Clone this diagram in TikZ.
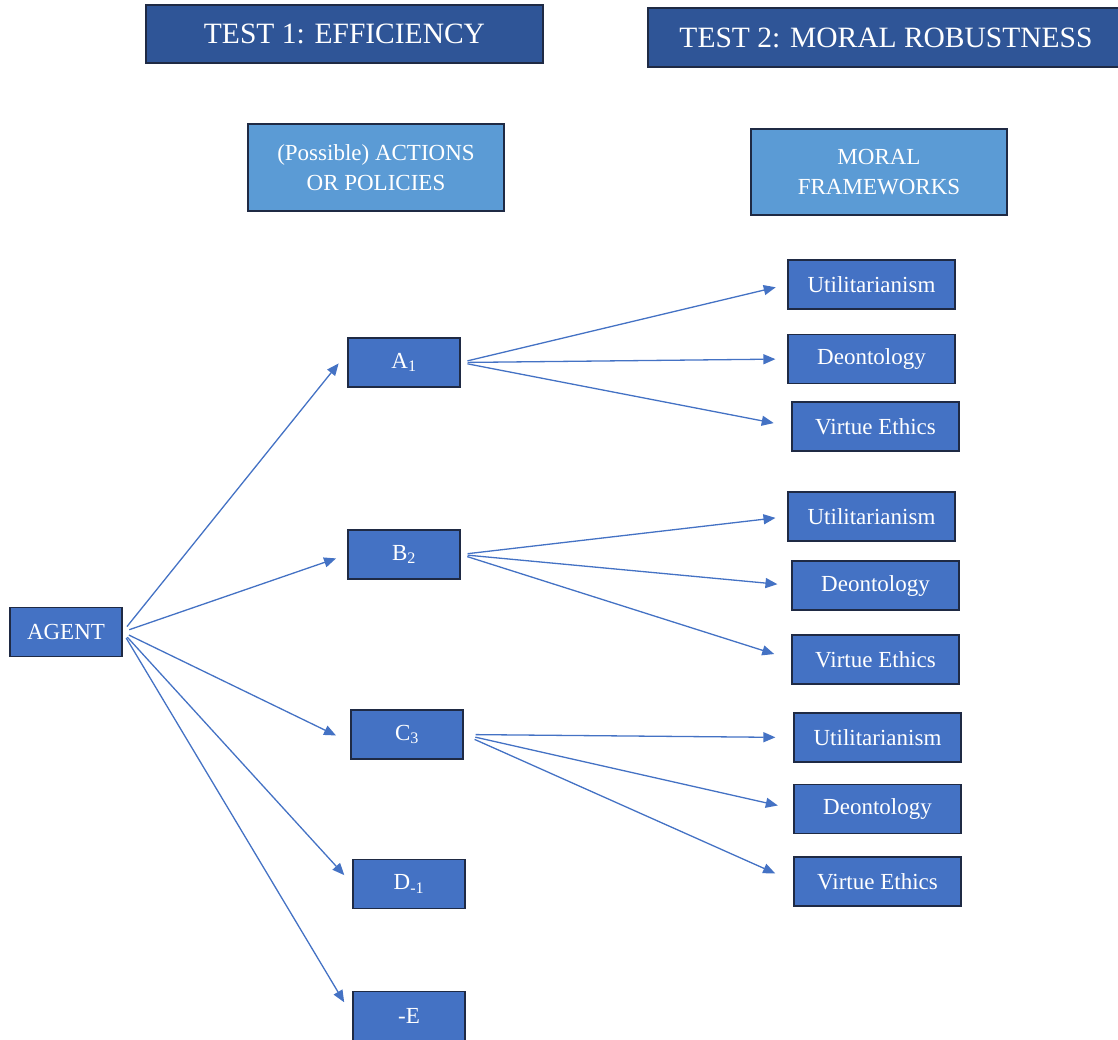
\documentclass[tikz,border=0pt]{standalone}
\usepackage{fontspec}
\setmainfont{Liberation Serif}
\usetikzlibrary{arrows.meta}
\definecolor{titleblue}{HTML}{2F5597}
\definecolor{boxblue}{HTML}{4472C4}
\definecolor{lightblue}{HTML}{5B9BD5}
\definecolor{edgenavy}{HTML}{1F2A44}

\begin{document}
\begin{tikzpicture}[x=1pt, y=-1pt,
			testbar/.style={rectangle, draw=edgenavy, fill=titleblue, line width=1.2pt, text=white,
				minimum width=397pt, minimum height=58pt, font=\fontsize{29.5}{34}\selectfont},
			header/.style={rectangle, draw=edgenavy, fill=lightblue, line width=1.2pt, text=white,
				minimum width=256pt, minimum height=87pt, align=center, font=\fontsize{23}{30.5}\selectfont},
			choice/.style={rectangle, draw=edgenavy, fill=boxblue, line width=1.2pt, text=white,
				minimum width=112pt, minimum height=49pt, inner sep=0pt, font=\fontsize{23}{27}\selectfont},
			ethic/.style={choice, minimum width=167pt},
			link/.style={draw=boxblue, line width=1.3pt, -{Triangle[length=12pt, width=10pt]},
				shorten <=7pt, shorten >=12pt}
			]
			\useasboundingbox (0,0) rectangle (1118,1040);
			
			\node[testbar] (Test1) at (344.5,34) {TEST 1: EFFICIENCY};
			\node[testbar, minimum width=476pt, minimum height=59pt] (Test2) at (886,37.5) {TEST 2: MORAL ROBUSTNESS};
			
			\node[header] (Actions) at (376,167.5) {(Possible) ACTIONS\\OR POLICIES};
			\node[header, minimum height=86pt] (Frameworks) at (879,172) {MORAL\\FRAMEWORKS};
			
			\node[choice] (Agent) at (66,632) {AGENT};
			
			\node[choice] (A) at (404,362.5) {A\textsubscript{1}};
			\node[choice] (B) at (404,554.5) {B\textsubscript{2}};
			\node[choice] (C) at (407,734.5) {C\textsubscript{3}};
			\node[choice] (D) at (409,884) {D\textsubscript{-1}};
			\node[choice] (E) at (409,1016) {-E};
			
			\node[ethic] (UtilA) at (871.5,284.5) {Utilitarianism};
			\node[ethic] (DeonA) at (871.5,359) {Deontology};
			\node[ethic] (VirtA) at (875.5,426.5) {Virtue Ethics};
			
			\node[ethic] (UtilB) at (871.5,516.5) {Utilitarianism};
			\node[ethic] (DeonB) at (875.5,585.5) {Deontology};
			\node[ethic] (VirtB) at (875.5,659.5) {Virtue Ethics};
			
			\node[ethic] (UtilC) at (877.5,737.5) {Utilitarianism};
			\node[ethic] (DeonC) at (877.5,809) {Deontology};
			\node[ethic] (VirtC) at (877.5,881.5) {Virtue Ethics};
			
			% agent to the possible actions
			\draw[link, shorten >=14pt] (Agent.east) -- (A.170);
			\draw[link] (Agent.east) -- (B.west);
			\draw[link, shorten >=16pt] (Agent.east) -- (C.188);
			\draw[link] (Agent.east) -- (D.west);
			\draw[link, shorten >=16pt] (Agent.east) -- (E.west);
			
			% each action checked against the frameworks
			\draw[link] (A.east) -- (UtilA.west);
			\draw[link] (A.east) -- (DeonA.west);
			\draw[link, shorten >=18pt] (A.east) -- (VirtA.west);
			
			\draw[link] (B.east) -- (UtilB.west);
			\draw[link, shorten >=14pt] (B.east) -- (DeonB.west);
			\draw[link, shorten >=18pt] (B.east) -- (VirtB.west);
			
			\draw[link, shorten <=12pt, shorten >=18pt] (C.east) -- (UtilC.west);
			\draw[link, shorten <=12pt, shorten >=16pt] (C.east) -- (DeonC.west);
			\draw[link, shorten <=12pt, shorten >=20pt] (C.east) -- (VirtC.west);
		\end{tikzpicture}
\end{document}
